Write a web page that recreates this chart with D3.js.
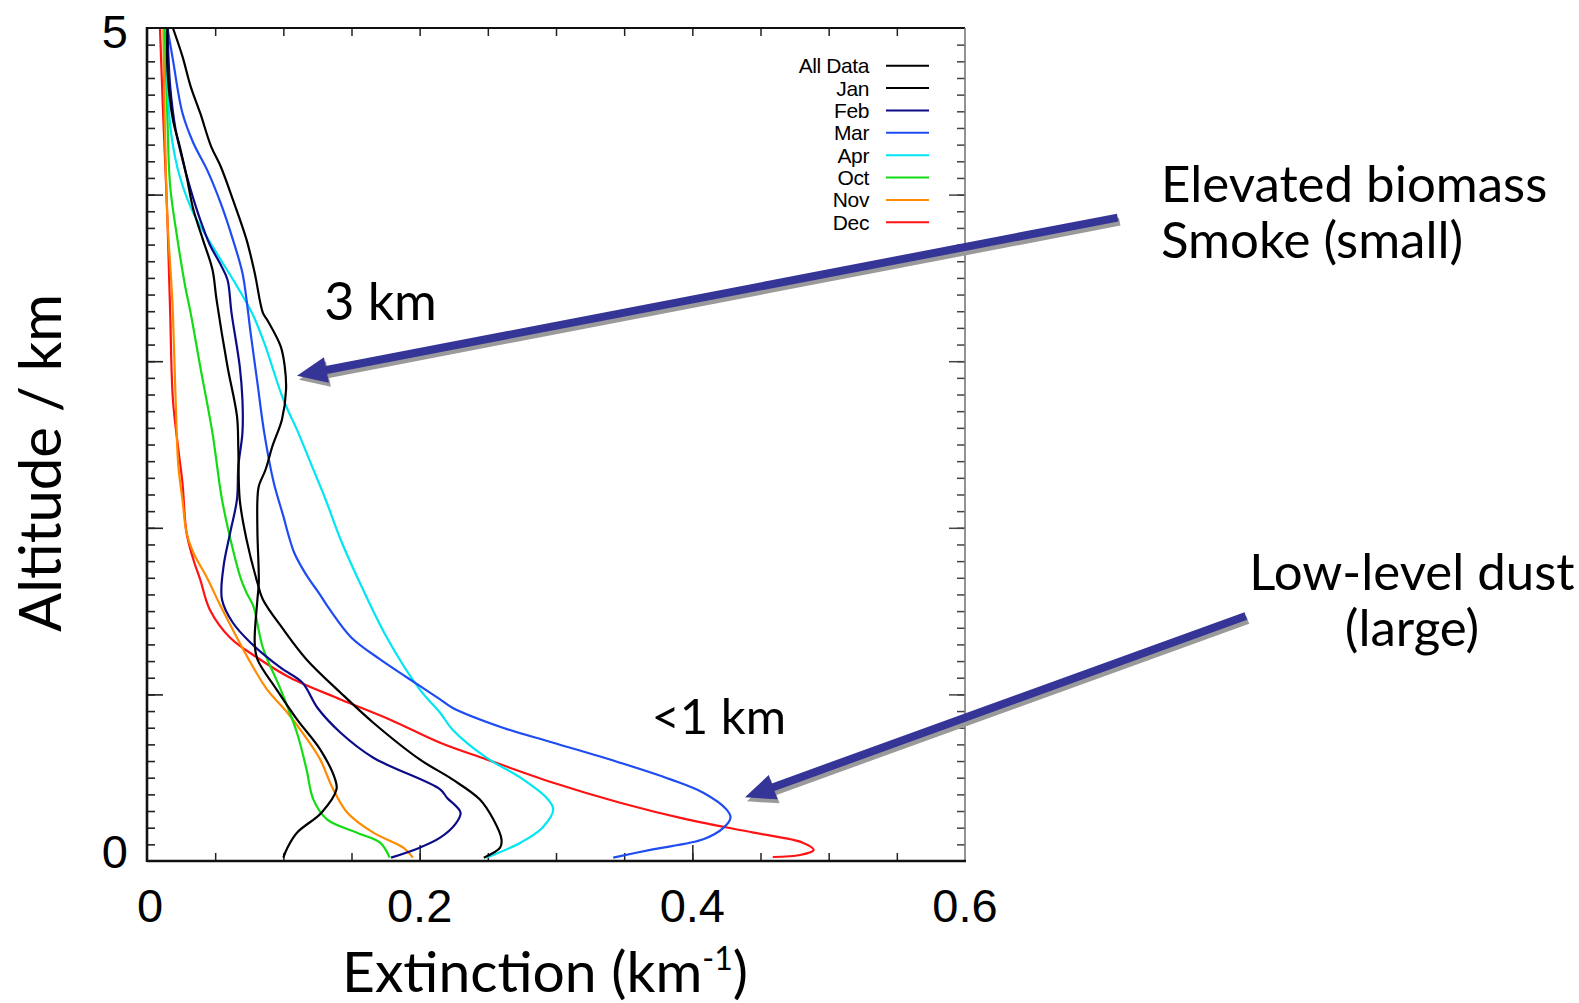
<!DOCTYPE html>
<html>
<head>
<meta charset="utf-8">
<script src="https://cdn.jsdelivr.net/npm/d3@7"></script>
<style>
  html, body { margin: 0; padding: 0; background: #ffffff; }
  svg { display: block; }
</style>
</head>
<body>
<svg id="chart" width="1579" height="1003"></svg>
<script>
// ---- Extinction profiles: [altitude (km), extinction (km^-1)] ----
const allData = [[5.0,0.015],[4.75,0.015],[4.45,0.019],[4.29,0.024],[4.11,0.029],[3.91,0.034],[3.73,0.041],[3.55,0.048],[3.37,0.051],[2.97,0.059],[2.67,0.066],[2.47,0.067],[2.17,0.068],[1.93,0.073],[1.67,0.081],[1.57,0.085],[1.39,0.100],[1.21,0.117],[1.01,0.142],[0.83,0.166],[0.61,0.200],[0.49,0.224],[0.37,0.244],[0.25,0.254],[0.13,0.260],[0.08,0.259],[0.02,0.247]];
const jan = [[5.0,0.019],[4.83,0.026],[4.65,0.032],[4.49,0.039],[4.29,0.047],[4.17,0.054],[3.97,0.063],[3.73,0.073],[3.53,0.079],[3.29,0.085],[3.25,0.088],[3.09,0.098],[2.97,0.101],[2.83,0.102],[2.65,0.099],[2.49,0.092],[2.35,0.087],[2.25,0.082],[2.17,0.081],[1.97,0.081],[1.67,0.082],[1.57,0.081],[1.31,0.079],[1.21,0.081],[1.03,0.095],[0.85,0.110],[0.67,0.127],[0.49,0.138],[0.43,0.139],[0.29,0.128],[0.17,0.110],[0.08,0.103],[0.02,0.100]];
const feb = [[5.0,0.015],[4.65,0.017],[4.39,0.021],[4.21,0.026],[4.03,0.032],[3.85,0.039],[3.70,0.046],[3.58,0.054],[3.49,0.059],[3.29,0.062],[2.97,0.068],[2.77,0.070],[2.57,0.070],[2.37,0.067],[2.17,0.066],[1.97,0.061],[1.76,0.056],[1.57,0.055],[1.43,0.063],[1.31,0.076],[1.16,0.098],[1.07,0.114],[0.92,0.125],[0.77,0.142],[0.62,0.166],[0.43,0.215],[0.38,0.220],[0.29,0.230],[0.22,0.226],[0.14,0.215],[0.08,0.200],[0.02,0.179]];
const mar = [[5.0,0.015],[4.81,0.019],[4.49,0.026],[4.31,0.034],[4.15,0.044],[3.95,0.054],[3.73,0.063],[3.53,0.070],[3.37,0.073],[3.17,0.076],[2.87,0.081],[2.57,0.086],[2.27,0.093],[2.07,0.100],[1.95,0.104],[1.85,0.108],[1.77,0.113],[1.69,0.119],[1.61,0.126],[1.51,0.134],[1.34,0.150],[1.21,0.171],[1.10,0.191],[0.97,0.215],[0.92,0.224],[0.80,0.261],[0.71,0.298],[0.59,0.347],[0.49,0.384],[0.41,0.408],[0.31,0.425],[0.26,0.428],[0.20,0.423],[0.13,0.408],[0.07,0.371],[0.02,0.342]];
const apr = [[5.0,0.015],[4.65,0.015],[4.35,0.018],[4.11,0.024],[3.89,0.034],[3.65,0.051],[3.45,0.066],[3.29,0.077],[3.11,0.086],[2.77,0.100],[2.57,0.111],[2.37,0.121],[2.17,0.131],[1.93,0.142],[1.69,0.155],[1.34,0.176],[1.03,0.200],[0.89,0.215],[0.79,0.224],[0.62,0.249],[0.50,0.274],[0.38,0.293],[0.31,0.298],[0.20,0.290],[0.11,0.274],[0.02,0.249]];
const oct = [[5.0,0.013],[4.45,0.015],[4.05,0.017],[3.75,0.022],[3.45,0.028],[3.29,0.032],[2.97,0.039],[2.57,0.048],[2.17,0.055],[1.87,0.063],[1.69,0.069],[1.61,0.073],[1.53,0.078],[1.28,0.085],[1.03,0.098],[0.77,0.110],[0.55,0.117],[0.37,0.122],[0.25,0.132],[0.17,0.154],[0.11,0.171],[0.02,0.178]];
const nov = [[5.0,0.012],[4.45,0.013],[3.85,0.015],[3.45,0.018],[3.29,0.019],[2.77,0.021],[2.37,0.023],[2.17,0.026],[1.97,0.029],[1.85,0.034],[1.70,0.044],[1.53,0.054],[1.34,0.066],[1.19,0.076],[1.03,0.088],[0.89,0.103],[0.77,0.114],[0.61,0.127],[0.44,0.136],[0.29,0.147],[0.17,0.166],[0.08,0.188],[0.02,0.195]];
const dec = [[5.0,0.0095],[4.45,0.012],[3.85,0.015],[3.29,0.017],[2.77,0.019],[2.47,0.023],[2.27,0.026],[1.97,0.029],[1.81,0.034],[1.69,0.039],[1.51,0.046],[1.34,0.061],[1.22,0.081],[1.10,0.105],[0.97,0.142],[0.85,0.178],[0.71,0.215],[0.61,0.249],[0.47,0.298],[0.35,0.347],[0.25,0.396],[0.17,0.445],[0.11,0.481],[0.066,0.489],[0.036,0.479],[0.024,0.459]];

const seriesNames  = ["All Data", "Jan", "Feb", "Mar", "Apr", "Oct", "Nov", "Dec"];
const seriesValues = [allData, jan, feb, mar, apr, oct, nov, dec];
const seriesColors = ["#000000", "#000000", "#0b0b88", "#1f4cf2", "#00e6f2", "#14dc14", "#ff8a00", "#ff1212"];

// ---- Axis ticks ----
const xTickLabels = [0, 0.2, 0.4, 0.6];
const yTickLabels = [0, 5];

// ---- Annotations (data coordinates: extinction, altitude) ----
const arrowSmoke = { from: [0.712, 3.862], to: [0.110, 2.913] };
const arrowDust  = { from: [0.806, 1.470], to: [0.4386, 0.382] };
const labelSmokeAlt = { text: "3 km",  at: [0.130, 3.25] };
const labelDustAlt  = { text: "<1 km", at: [0.370, 0.76] };
const smokeNote = ["Elevated biomass", "Smoke (small)"];
const dustNote  = ["Low-level dust", "(large)"];

// ---- Layout ----
const plot = { left: 147, right: 965, top: 28, bottom: 861 };
const x = d3.scaleLinear().domain([0, 0.6]).range([plot.left, plot.right]);
const y = d3.scaleLinear().domain([0, 5]).range([plot.bottom, plot.top]);

const svg = d3.select("#chart");
const comic = "Lato, 'Open Sans', sans-serif";
const helv = "'Liberation Sans', Arial, sans-serif";

// minor / major tick values
const xMinor = d3.range(0, 0.6001, 0.05).map(v => +v.toFixed(2)).filter(v => v > 0 && v < 0.6);
const xMajor = xMinor.filter(v => Math.abs(v / 0.2 - Math.round(v / 0.2)) < 1e-6);
const yMinor = d3.range(0, 5.0001, 0.1).map(v => +v.toFixed(1)).filter(v => v > 0 && v < 5);
const yMajor = yMinor.filter(v => Math.abs(v - Math.round(v)) < 1e-6);

function tickAxis(axis, values, size) {
  return axis.tickValues(values).tickSize(size).tickFormat("").tickSizeOuter(0);
}
function styleTicks(g, color, w) {
  g.select(".domain").remove();
  g.selectAll(".tick line").attr("stroke", color).attr("stroke-width", w);
}

// bottom ticks (inward)
svg.append("g").attr("transform", `translate(0,${plot.bottom})`)
  .call(tickAxis(d3.axisBottom(x), xMinor, -8)).call(g => styleTicks(g, "#222", 1.5));
svg.append("g").attr("transform", `translate(0,${plot.bottom})`)
  .call(tickAxis(d3.axisBottom(x), xMajor, -16)).call(g => styleTicks(g, "#222", 1.5));
// top ticks
svg.append("g").attr("transform", `translate(0,${plot.top})`)
  .call(tickAxis(d3.axisTop(x), xMinor, -8)).call(g => styleTicks(g, "#222", 1.5));
// left ticks
svg.append("g").attr("transform", `translate(${plot.left},0)`)
  .call(tickAxis(d3.axisLeft(y), yMinor, -8)).call(g => styleTicks(g, "#222", 1.6));
svg.append("g").attr("transform", `translate(${plot.left},0)`)
  .call(tickAxis(d3.axisLeft(y), yMajor, -16)).call(g => styleTicks(g, "#222", 1.6));
// right ticks
svg.append("g").attr("transform", `translate(${plot.right},0)`)
  .call(tickAxis(d3.axisRight(y), yMinor, -8)).call(g => styleTicks(g, "#444", 1.5));
svg.append("g").attr("transform", `translate(${plot.right},0)`)
  .call(tickAxis(d3.axisRight(y), yMajor, -16)).call(g => styleTicks(g, "#444", 1.5));

// ---- profile lines ----
const line = d3.line()
  .x(d => x(d[1]))
  .y(d => y(d[0]))
  .curve(d3.curveCatmullRom.alpha(0.5));

const drawOrder = [7, 6, 5, 4, 3, 2, 0, 1];
svg.append("g").selectAll("path")
  .data(drawOrder)
  .join("path")
  .attr("d", i => line(seriesValues[i]))
  .attr("fill", "none")
  .attr("stroke", i => seriesColors[i])
  .attr("stroke-width", 2.2)
  .attr("stroke-linejoin", "round");

// ---- frame ----
svg.append("line").attr("x1", plot.left).attr("x2", plot.right).attr("y1", plot.top).attr("y2", plot.top)
  .attr("stroke", "#111").attr("stroke-width", 2.2);
svg.append("line").attr("x1", plot.right).attr("x2", plot.right).attr("y1", plot.top).attr("y2", plot.bottom)
  .attr("stroke", "#777").attr("stroke-width", 1.6);
svg.append("line").attr("x1", plot.left).attr("x2", plot.right + 1).attr("y1", plot.bottom).attr("y2", plot.bottom)
  .attr("stroke", "#111").attr("stroke-width", 2.6);
svg.append("line").attr("x1", plot.left).attr("x2", plot.left).attr("y1", plot.top - 1).attr("y2", plot.bottom + 1)
  .attr("stroke", "#111").attr("stroke-width", 2.6);

// ---- tick labels ----
svg.append("g").selectAll("text")
  .data(xTickLabels)
  .join("text")
  .attr("x", d => x(d) + (d === 0 ? 3 : 0))
  .attr("y", 922)
  .attr("text-anchor", "middle")
  .attr("font-family", helv)
  .attr("font-size", 47)
  .attr("fill", "#000")
  .text(d => d === 0 ? "0" : d.toFixed(1));

svg.append("g").selectAll("text")
  .data(yTickLabels)
  .join("text")
  .attr("x", 128)
  .attr("y", d => y(d) + (d === 0 ? 7 : 20))
  .attr("text-anchor", "end")
  .attr("font-family", helv)
  .attr("font-size", 47)
  .attr("fill", "#000")
  .text(d => String(d));

// ---- axis titles ----
const xTitle = svg.append("text")
  .attr("x", 545).attr("y", 992)
  .attr("text-anchor", "middle")
  .attr("font-family", comic).attr("font-size", 57).attr("fill", "#000");
xTitle.append("tspan").text("Extinction (km");
xTitle.append("tspan").attr("font-size", 32).attr("dy", -22).text("-1");
xTitle.append("tspan").attr("dy", 22).text(")");

svg.append("text")
  .attr("transform", "translate(61,463) rotate(-90)")
  .attr("text-anchor", "middle")
  .attr("font-family", comic).attr("font-size", 58).attr("fill", "#000")
  .text("Altitude / km");

// ---- legend ----
const legend = svg.append("g");
seriesNames.forEach((name, i) => {
  const ly = 65.7 + i * 22.37;
  legend.append("text")
    .attr("x", 869).attr("y", ly)
    .attr("dy", "0.36em")
    .attr("text-anchor", "end")
    .attr("font-family", helv).attr("font-size", 21).attr("letter-spacing", -0.4)
    .attr("fill", "#000")
    .text(name);
  legend.append("line")
    .attr("x1", 886).attr("x2", 929).attr("y1", ly).attr("y2", ly)
    .attr("stroke", seriesColors[i]).attr("stroke-width", 2);
});

// ---- annotation arrows ----
function arrow(spec) {
  const x0 = x(spec.from[0]), y0 = y(spec.from[1]);
  const x1 = x(spec.to[0]),   y1 = y(spec.to[1]);
  const ang = Math.atan2(y1 - y0, x1 - x0);
  const headLen = 30, headHalf = 13, shaft = 8;
  const bx = x1 - headLen * Math.cos(ang), by = y1 - headLen * Math.sin(ang);
  const nx = -Math.sin(ang), ny = Math.cos(ang);
  const p = d3.path();
  p.moveTo(x0 + nx * shaft / 2, y0 + ny * shaft / 2);
  p.lineTo(bx + nx * shaft / 2, by + ny * shaft / 2);
  p.lineTo(bx + nx * headHalf, by + ny * headHalf);
  p.lineTo(x1, y1);
  p.lineTo(bx - nx * headHalf, by - ny * headHalf);
  p.lineTo(bx - nx * shaft / 2, by - ny * shaft / 2);
  p.lineTo(x0 - nx * shaft / 2, y0 - ny * shaft / 2);
  p.closePath();
  const g = svg.append("g");
  g.append("path").attr("d", p.toString()).attr("fill", "#9a9a9a").attr("transform", "translate(2,4)");
  g.append("path").attr("d", p.toString()).attr("fill", "#353597");
}
arrow(arrowSmoke);
arrow(arrowDust);

// ---- annotation text ----
[labelSmokeAlt, labelDustAlt].forEach((l, i) => {
  svg.append("text")
    .attr("x", x(l.at[0])).attr("y", y(l.at[1]))
    .attr("font-family", comic).attr("font-size", i === 0 ? 52 : 49).attr("fill", "#000")
    .text(l.text);
});

// multi-line notes as one text block each
function note(lines, xPos, yPos, anchor) {
  const t = svg.append("text")
    .attr("x", xPos).attr("y", yPos)
    .attr("text-anchor", anchor)
    .attr("font-family", comic).attr("font-size", 51).attr("fill", "#000");
  lines.forEach((s, i) => {
    t.append("tspan").attr("x", xPos).attr("dy", i === 0 ? 0 : 56).text(s);
  });
}
note(smokeNote, 1161, 202, "start");
note(dustNote, 1412, 590, "middle");
</script>
</body>
</html>
